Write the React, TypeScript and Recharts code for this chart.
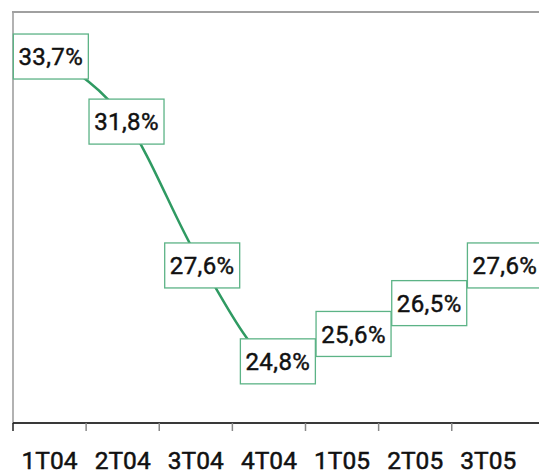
import React from 'react';
import { LineChart, Line, XAxis, YAxis, LabelList, ReferenceArea } from 'recharts';

const categories = ['1T04', '2T04', '3T04', '4T04', '1T05', '2T05', '3T05'];
const values = [33.7, 31.8, 27.6, 24.8, 25.6, 26.5, 27.6];
const axisTicks = [0, 0.5, 1, 1.5, 2, 2.5, 3, 3.5, 4, 4.5, 5, 5.5, 6, 6.5];
const yMin = 23;
const yMax = 35;
const xMax = 8;

const data = categories.map((c, i) => ({ pos: i + 0.5, name: c, value: values[i] }));

const fmt = (v: number) => v.toFixed(1).replace('.', ',') + '%';

const AxisTick = (props: any) => {
  const { x, y, payload } = props;
  const v = payload.value as number;
  if (Number.isInteger(v)) {
    return (
      <line x1={x} x2={x} y1={y} y2={y + 8} stroke={v === 0 ? '#222' : '#888'} strokeWidth={1.5} />
    );
  }
  const idx = Math.floor(v);
  return (
    <text x={x} y={y + 29} dy="0.71em" textAnchor="middle" fontSize={24.5} fontFamily="Roboto" fill="#111" stroke="#111" strokeWidth={0.5}>
      {categories[idx]}
    </text>
  );
};

const renderLabel = (props: any) => {
  const { x, y, value } = props;
  const w = 75;
  const h = 45;
  return (
    <g>
      <rect x={x - w / 2} y={y - h / 2} width={w} height={h} fill="#fff" stroke="#5cb386" strokeWidth={1.3} />
      <text x={x} y={y} dy="0.36em" textAnchor="middle" fontSize={24} letterSpacing={0.4} fontFamily="Roboto" fill="#111" stroke="#111" strokeWidth={0.45}>
        {fmt(value)}
      </text>
    </g>
  );
};

export default function App() {
  return (
    <div style={{ position: 'absolute', left: 0, top: 0, width: 539, height: 474, overflow: 'hidden', background: '#fff' }}>
      <LineChart width={600} height={474} data={data} margin={{ top: 12, right: 2, left: 13, bottom: 0 }}>
        <ReferenceArea
          xAxisId="cat"
          x1={0}
          x2={xMax}
          y1={yMin}
          y2={yMax}
          fill="none"
          fillOpacity={0}
          stroke="#999"
          strokeWidth={1.5}
          ifOverflow="visible"
        />
        <XAxis
          xAxisId="cat"
          type="number"
          dataKey="pos"
          domain={[0, xMax]}
          ticks={axisTicks}
          interval={0}
          height={51}
          tickSize={0}
          tickMargin={0}
          tickLine={false}
          tick={<AxisTick />}
          axisLine={{ stroke: '#111', strokeWidth: 1.5 }}
        />
        <XAxis xAxisId="line" type="number" dataKey="pos" domain={[0, 7.73]} hide />
        <YAxis type="number" domain={[yMin, yMax]} hide />
        <Line
          xAxisId="line"
          type="monotone"
          dataKey="value"
          stroke="#2f9a62"
          strokeWidth={2.5}
          dot={false}
          activeDot={false}
          isAnimationActive={false}
        >
          <LabelList dataKey="value" content={renderLabel} />
        </Line>
      </LineChart>
      <div
        style={{
          position: 'absolute',
          left: 12,
          top: 11,
          width: 600,
          height: 2,
          background: '#a0a0a0',
          pointerEvents: 'none',
        }}
      />
    </div>
  );
}
